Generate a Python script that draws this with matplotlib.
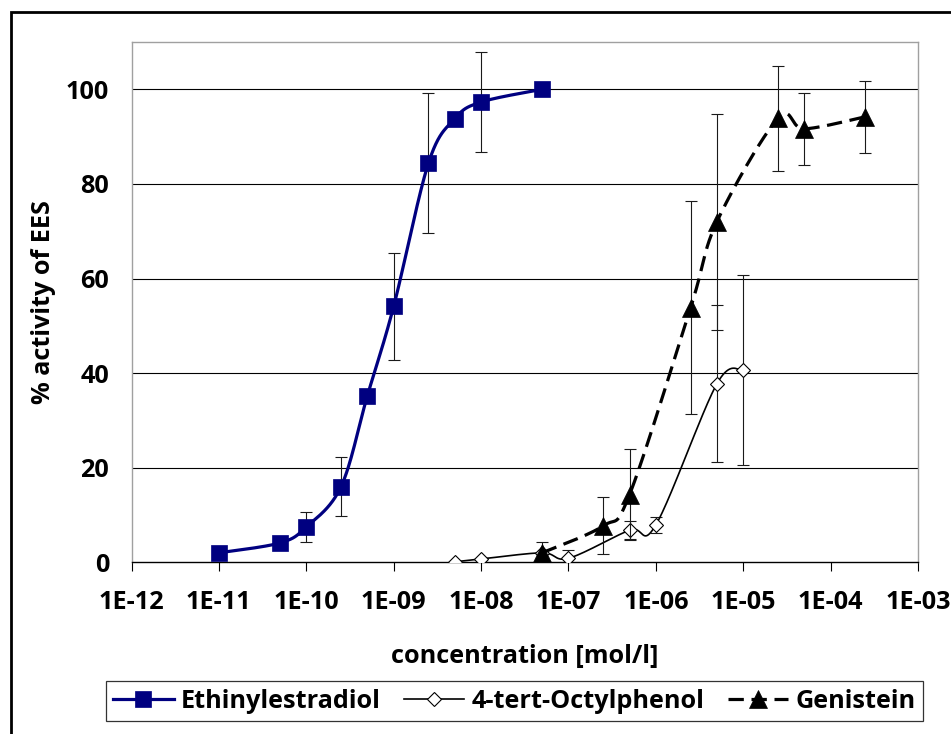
import numpy as np
import matplotlib
matplotlib.use("Agg")
import matplotlib.pyplot as plt
from matplotlib.patches import Rectangle
from matplotlib.lines import Line2D
from matplotlib.ticker import FixedLocator, FixedFormatter, NullLocator

plt.rcParams["font.family"] = ["Open Sans", "DejaVu Sans"]
plt.rcParams["font.weight"] = "bold"

# Ethinylestradiol
ee_conc = [1e-11, 5e-11, 1e-10, 2.5e-10, 5e-10, 1e-9, 2.5e-9, 5e-9, 1e-8, 5e-8]
ee_act = [2.0, 4.1, 7.45, 16.0, 35.2, 54.1, 84.4, 93.8, 97.3, 100.0]
ee_err = [0, 0, 3.25, 6.25, 0, 11.35, 14.8, 0, 10.55, 0]

# 4-tert-Octylphenol
op_conc = [5e-9, 1e-8, 5e-8, 1e-7, 5e-7, 1e-6, 5e-6, 1e-5]
op_act = [0.1, 0.7, 2.0, 0.85, 6.8, 7.9, 37.75, 40.6]
op_err = [0, 0, 0, 1.65, 1.9, 1.7, 16.55, 20.1]

# Genistein
gen_conc = [5e-8, 2.5e-7, 5e-7, 2.5e-6, 5e-6, 2.5e-5, 5e-5, 2.5e-4]
gen_act = [2.0, 7.7, 14.3, 53.85, 72.0, 93.85, 91.65, 94.2]
gen_err = [2.2, 6.0, 9.6, 22.45, 22.8, 11.05, 7.55, 7.6]

xtick_values = [1e-12, 1e-11, 1e-10, 1e-9, 1e-8, 1e-7, 1e-6, 1e-5, 1e-4, 1e-3]
xtick_labels = ["1E-12", "1E-11", "1E-10", "1E-09", "1E-08",
                "1E-07", "1E-06", "1E-05", "1E-04", "1E-03"]
ytick_values = [0, 20, 40, 60, 80, 100]

NAVY = "#000080"
FS = 18.2


def smooth_curve(xs, ys, steps=40):
    """Bezier smoothing (Catmull-Rom style) in log10(x) / y space."""
    p = np.column_stack([np.log10(xs), np.asarray(ys, float)])
    n = len(p)
    out = [p[0]]
    t = np.linspace(0, 1, steps)[1:, None]
    for i in range(n - 1):
        p0 = p[i - 1] if i > 0 else p[i]
        p3 = p[i + 2] if i + 2 < n else p[i + 1]
        c1 = p[i] + (p[i + 1] - p0) / 6.0
        c2 = p[i + 1] - (p3 - p[i]) / 6.0
        seg = ((1 - t) ** 3 * p[i] + 3 * (1 - t) ** 2 * t * c1
               + 3 * (1 - t) * t ** 2 * c2 + t ** 3 * p[i + 1])
        out.extend(seg)
    out = np.array(out)
    return 10 ** out[:, 0], out[:, 1]


fig = plt.figure(figsize=(9.51, 7.34), dpi=100)
ax = fig.add_axes([131.5 / 951, (734 - 562.3) / 734, (918 - 131.5) / 951, (562.3 - 42) / 734])
ax.set_xscale("log")
ax.set_xlim(1e-12, 1e-3)
ax.set_ylim(0, 110)

# horizontal gridlines
for yv in ytick_values[1:]:
    ax.axhline(yv, color="black", lw=0.8, zorder=0.5)


def draw_errors(conc, act, err, z):
    conc, act, err = map(np.asarray, (conc, act, err))
    m = err > 0
    ax.errorbar(conc[m], act[m], yerr=err[m], fmt="none", ecolor="#1a1a1a",
                elinewidth=0.8, capsize=4, capthick=0.8, zorder=z)


series = [
    dict(conc=ee_conc, act=ee_act, err=ee_err, color=NAVY, lw=2.3, ls="-",
         marker="s", ms=11.8, mfc=NAVY, mec=NAVY, mew=0.5, label="Ethinylestradiol"),
    dict(conc=op_conc, act=op_act, err=op_err, color="black", lw=1.2, ls="-",
         marker="D", ms=7.6, mfc="white", mec="black", mew=0.8, label="4-tert-Octylphenol"),
    dict(conc=gen_conc, act=gen_act, err=gen_err, color="black", lw=2.3, ls=(0, (4.8, 2.4)),
         marker="^", ms=12.5, mfc="black", mec="black", mew=0.5, label="Genistein"),
]

handles = []
for k, s in enumerate(series):
    base = 2 + 3 * k
    draw_errors(s["conc"], s["act"], s["err"], base)
    sx, sy = smooth_curve(s["conc"], s["act"])
    ax.plot(sx, sy, color=s["color"], lw=s["lw"], ls=s["ls"], zorder=base + 1,
            solid_capstyle="butt", dash_capstyle="butt")
    ax.plot(s["conc"], s["act"], ls="none", marker=s["marker"], ms=s["ms"],
            mfc=s["mfc"], mec=s["mec"], mew=s["mew"], zorder=base + 2)
    handles.append(Line2D([], [], color=s["color"], lw=s["lw"], ls=s["ls"],
                          marker=s["marker"], ms=s["ms"], mfc=s["mfc"],
                          mec=s["mec"], mew=s["mew"], label=s["label"]))

# axes styling
ax.xaxis.set_major_locator(FixedLocator(xtick_values))
ax.xaxis.set_major_formatter(FixedFormatter(xtick_labels))
ax.xaxis.set_minor_locator(NullLocator())
ax.set_yticks(ytick_values)
ax.tick_params(axis="x", direction="out", length=6.5, width=0.8, color="black",
               labelsize=FS, pad=13.5)
ax.tick_params(axis="y", length=0, labelsize=FS, pad=16)
for lab in ax.get_xticklabels() + ax.get_yticklabels():
    lab.set_fontweight("bold")

ax.spines["bottom"].set_color("black")
ax.spines["bottom"].set_linewidth(1.0)
for side in ("left", "top", "right"):
    ax.spines[side].set_color("#a0a0a0")
    ax.spines[side].set_linewidth(1.0)

ax.set_xlabel("concentration [mol/l]", fontsize=FS, fontweight="bold")
ax.xaxis.set_label_coords(0.5, (562.3 - 656) / 520.3)
ax.xaxis.label.set_va("center")
ax.set_ylabel("% activity of EES", fontsize=FS, fontweight="bold")
ax.yaxis.set_label_coords((44 - 131.5) / 786.5, 0.5)
ax.yaxis.label.set_va("center")

leg = fig.legend(handles=handles, loc="center", ncol=3,
                 bbox_to_anchor=(514.5 / 951, (734 - 701) / 734),
                 frameon=True, fancybox=False, shadow=False,
                 handlelength=2.4, handletextpad=0.3,
                 columnspacing=0.9, borderpad=0.28, borderaxespad=0,
                 numpoints=1, prop=dict(weight="bold", size=FS))
leg.get_frame().set_edgecolor("black")
leg.get_frame().set_linewidth(0.9)

# outer frame of the chart area
fig.patches.append(Rectangle((10.5 / 951, -0.2), 1.5, (734 - 12) / 734 + 0.2,
                             transform=fig.transFigure, fill=False,
                             edgecolor="black", lw=2.0))

fig.savefig("out.png", dpi=100)
